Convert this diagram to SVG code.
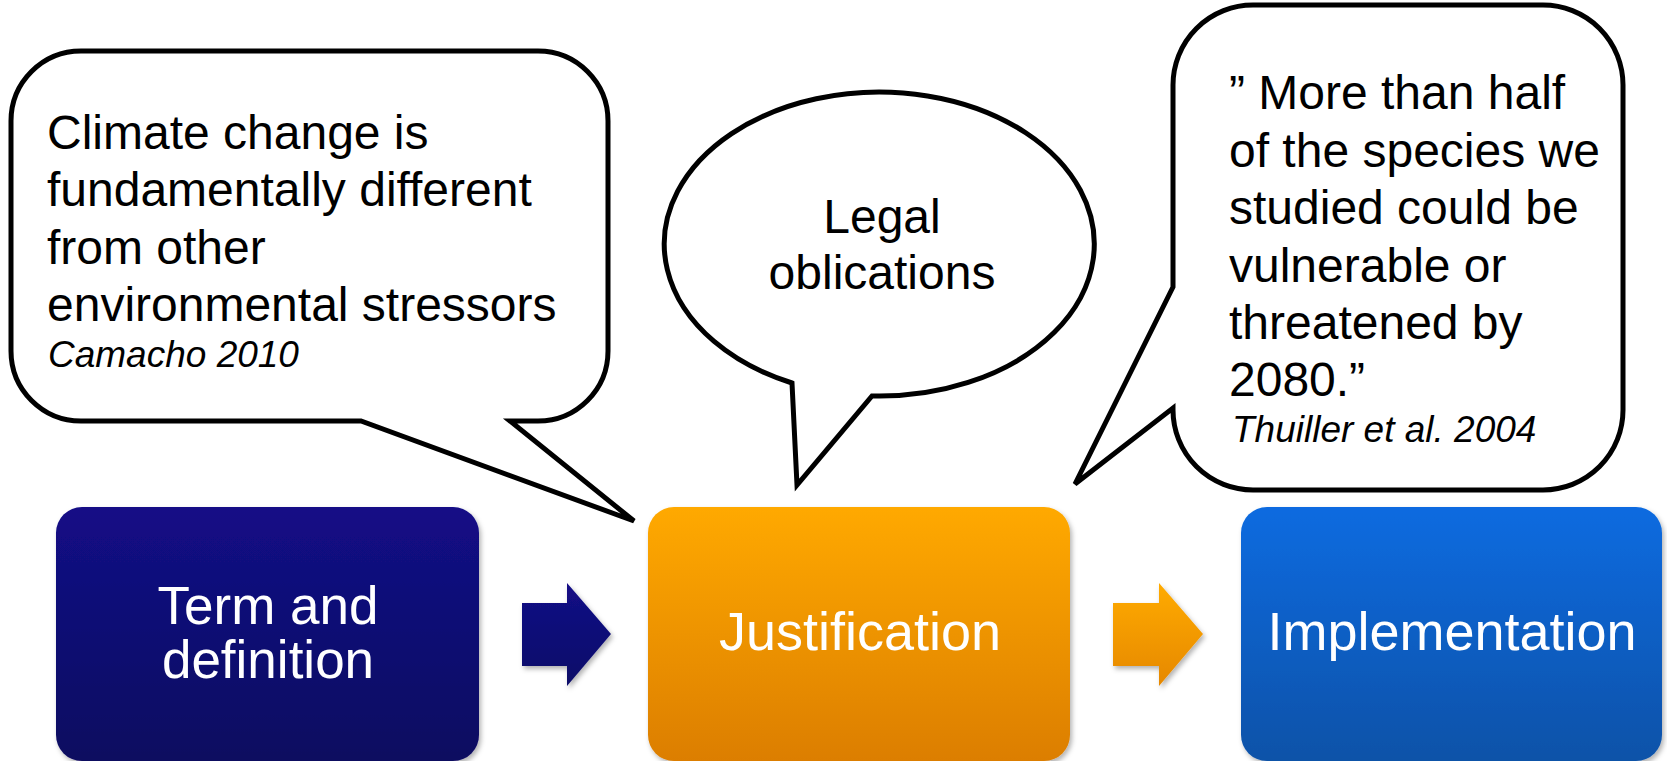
<svg xmlns="http://www.w3.org/2000/svg" width="1667" height="761" viewBox="0 0 1667 761">
<style>
.bubble{fill:#ffffff;stroke:#000000;stroke-width:5;stroke-linejoin:miter}
.btxt{font-family:"Liberation Sans",Arial,sans-serif;font-size:48px;fill:#000000}
.cite{font-family:"Liberation Sans",Arial,sans-serif;font-size:37px;font-style:italic;fill:#000000}
.wtxt{font-family:"Liberation Sans",Arial,sans-serif;font-size:54px;fill:#ffffff;text-anchor:middle}
</style>
<defs>
<linearGradient id="gNavy" x1="0" y1="0" x2="0" y2="1"><stop offset="0" stop-color="#130f86"/><stop offset="1" stop-color="#0a0860"/></linearGradient>
<linearGradient id="gOrange" x1="0" y1="0" x2="0" y2="1"><stop offset="0" stop-color="#ffa900"/><stop offset="1" stop-color="#dc7e00"/></linearGradient>
<linearGradient id="gBlue" x1="0" y1="0" x2="0" y2="1"><stop offset="0" stop-color="#0b6be0"/><stop offset="1" stop-color="#0a52a8"/></linearGradient>
<linearGradient id="gNavyA" x1="0" y1="0" x2="0" y2="1"><stop offset="0" stop-color="#130f86"/><stop offset="1" stop-color="#0b0a68"/></linearGradient>
<linearGradient id="gOrangeA" x1="0" y1="0" x2="0" y2="1"><stop offset="0" stop-color="#ffab00"/><stop offset="1" stop-color="#e68800"/></linearGradient>
<filter id="sh" x="-10%" y="-10%" width="130%" height="130%"><feDropShadow dx="2" dy="3" stdDeviation="2.5" flood-color="#000" flood-opacity="0.3"/></filter>
</defs>

<g id="bubble-climate">
<path class="bubble" d="M 81 51 H 538 A 70 70 0 0 1 608 121 V 351 A 70 70 0 0 1 538 421 H 510 L 634 521 L 361 421 H 81 A 70 70 0 0 1 11 351 V 121 A 70 70 0 0 1 81 51 Z"/>
<text class="btxt" x="47" y="149">Climate change is</text>
<text class="btxt" x="47" y="206">fundamentally different</text>
<text class="btxt" x="47" y="264">from other</text>
<text class="btxt" x="47" y="321">environmental stressors</text>
<text class="cite" x="48" y="367">Camacho 2010</text>
</g>

<g id="bubble-legal">
<path class="bubble" d="M 792 383 A 215 152 0 1 1 872 396 L 797 485 Z"/>
<text class="btxt" x="882" y="233" text-anchor="middle">Legal</text>
<text class="btxt" x="882" y="289" text-anchor="middle">oblications</text>
</g>

<g id="bubble-thuiller">
<path class="bubble" d="M 1253 5 H 1543 A 80 80 0 0 1 1623 85 V 410 A 80 80 0 0 1 1543 490 H 1253 A 80 80 0 0 1 1173 410 V 408 L 1075 484 L 1173 287 V 85 A 80 80 0 0 1 1253 5 Z"/>
<text class="btxt" x="1229" y="109">” More than half</text>
<text class="btxt" x="1229" y="167">of the species we</text>
<text class="btxt" x="1229" y="224">studied could be</text>
<text class="btxt" x="1229" y="282">vulnerable or</text>
<text class="btxt" x="1229" y="339">threatened by</text>
<text class="btxt" x="1229" y="396">2080.”</text>
<text class="cite" x="1232" y="442">Thuiller et al. 2004</text>
</g>

<g id="node-term">
<rect x="56" y="507" width="423" height="254" rx="26" ry="26" fill="url(#gNavy)" filter="url(#sh)"/>
<text class="wtxt" x="268" y="624" style="font-size:53px">Term and</text>
<text class="wtxt" x="268" y="678" style="font-size:53px">definition</text>
</g>

<g id="node-justification">
<rect x="648" y="507" width="422" height="254" rx="26" ry="26" fill="url(#gOrange)" filter="url(#sh)"/>
<text class="wtxt" x="860" y="650">Justification</text>
</g>

<g id="node-implementation">
<rect x="1241" y="507" width="421" height="254" rx="26" ry="26" fill="url(#gBlue)" filter="url(#sh)"/>
<text class="wtxt" x="1452" y="650">Implementation</text>
</g>

<g id="connectors">
<polygon points="522,603 567,603 567,583 611,634 567,686 567,666 522,666" fill="url(#gNavyA)" filter="url(#sh)"/>
<polygon points="1113,603 1159,603 1159,583 1203,634 1159,686 1159,666 1113,666" fill="url(#gOrangeA)" filter="url(#sh)"/>
</g>
</svg>
